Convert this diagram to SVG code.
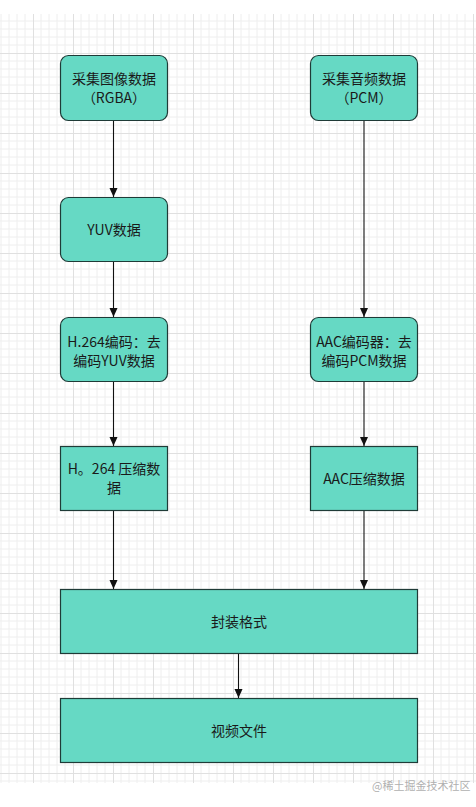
<svg xmlns="http://www.w3.org/2000/svg" width="476" height="807" viewBox="0 0 476 807">
  <style>
    .node { fill: #66d9c4; stroke: #1f3b37; stroke-width: 1.2; }
    .label { font-family: "Noto Sans CJK SC", "DejaVu Sans", sans-serif; font-size: 14px; fill: #1a1a1a; text-anchor: middle; }
    .edge { stroke: #111; stroke-width: 1.1; fill: none; marker-end: url(#arrow); }
    .wm { font-family: "Noto Sans CJK SC", sans-serif; font-size: 11px; fill: #b0b0b0; }
  </style>
  <defs>
    <pattern id="grid" x="-7" y="13" width="40" height="40" patternUnits="userSpaceOnUse">
      <path d="M8 0V40M16 0V40M24 0V40M32 0V40M0 8H40M0 16H40M0 24H40M0 32H40" stroke="#eeeeee" stroke-width="1" fill="none"/>
      <path d="M0.5 0V40M0 0.5H40" stroke="#e0e0e0" stroke-width="1" fill="none"/>
    </pattern>
    <marker id="arrow" markerUnits="userSpaceOnUse" markerWidth="10" markerHeight="10" viewBox="0 0 10 10" refX="9" refY="5" orient="auto">
      <path d="M0 1 L9 5 L0 9 Z" fill="#111"/>
    </marker>
  </defs>
  <rect width="476" height="807" fill="#ffffff"/>
  <rect x="0" y="14" width="476" height="769" fill="url(#grid)"/>

  <g id="connectors">
    <line class="edge" x1="113.5" y1="120" x2="113.5" y2="197"/>
    <line class="edge" x1="113.5" y1="261" x2="113.5" y2="317"/>
    <line class="edge" x1="113.5" y1="382" x2="113.5" y2="446"/>
    <line class="edge" x1="113.5" y1="510" x2="113.5" y2="589"/>
    <line class="edge" x1="364" y1="120" x2="364" y2="317"/>
    <line class="edge" x1="364" y1="382" x2="364" y2="446"/>
    <line class="edge" x1="364" y1="511" x2="364" y2="589"/>
    <line class="edge" x1="238.5" y1="653" x2="238.5" y2="698"/>
  </g>

  <g id="node-capture-image">
    <rect class="node" x="60.5" y="55.5" width="107" height="65" rx="8"/>
    <text class="label" x="114" y="84">采集图像数据</text>
    <text class="label" x="114" y="103">（RGBA）</text>
  </g>
  <g id="node-yuv">
    <rect class="node" x="60.5" y="197.5" width="107" height="64" rx="8"/>
    <text class="label" x="114" y="235">YUV数据</text>
  </g>
  <g id="node-h264-encode">
    <rect class="node" x="60.5" y="317.5" width="107" height="64" rx="8"/>
    <text class="label" x="114" y="347">H.264编码：去</text>
    <text class="label" x="114" y="366">编码YUV数据</text>
  </g>
  <g id="node-h264-compressed">
    <rect class="node" x="60.5" y="446.5" width="107" height="64"/>
    <text class="label" x="114" y="474">H。264 压缩数</text>
    <text class="label" x="114" y="493">据</text>
  </g>
  <g id="node-capture-audio">
    <rect class="node" x="310.5" y="55.5" width="107" height="65" rx="8"/>
    <text class="label" x="364" y="84">采集音频数据</text>
    <text class="label" x="364" y="103">（PCM）</text>
  </g>
  <g id="node-aac-encode">
    <rect class="node" x="310.5" y="317.5" width="107" height="64" rx="8"/>
    <text class="label" x="364" y="347">AAC编码器：去</text>
    <text class="label" x="364" y="366">编码PCM数据</text>
  </g>
  <g id="node-aac-compressed">
    <rect class="node" x="310.5" y="446.5" width="107" height="64"/>
    <text class="label" x="364" y="484">AAC压缩数据</text>
  </g>
  <g id="node-container">
    <rect class="node" x="60.5" y="589.5" width="357" height="64"/>
    <text class="label" x="239" y="627">封装格式</text>
  </g>
  <g id="node-video-file">
    <rect class="node" x="60.5" y="698.5" width="357" height="64"/>
    <text class="label" x="239" y="736">视频文件</text>
  </g>

  <text class="wm" x="372" y="790">@稀土掘金技术社区</text>
</svg>
